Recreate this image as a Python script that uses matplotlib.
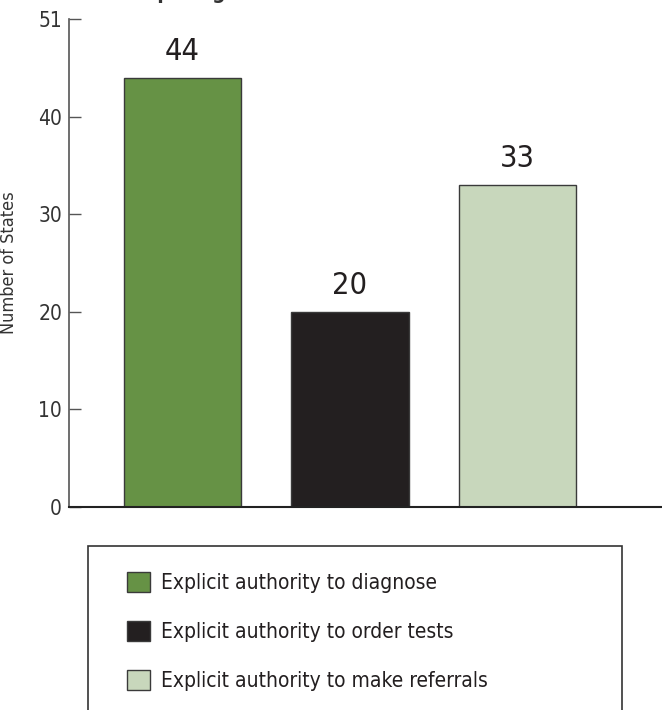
import matplotlib
matplotlib.use('Agg')
import matplotlib.pyplot as plt
from matplotlib import font_manager
from matplotlib.patches import Rectangle

# condensed sans if one is around, otherwise plain DejaVu
fonts = [(f.name, f.stretch) for f in font_manager.fontManager.ttflist]
if any(n == 'Liberation Sans Narrow' for n, s in fonts):
    plt.rcParams['font.family'] = ['Liberation Sans Narrow', 'DejaVu Sans']
elif any(n == 'DejaVu Sans' and s in ('condensed', 'semi-condensed', 500) for n, s in fonts):
    plt.rcParams['font.family'] = ['DejaVu Sans']
    plt.rcParams['font.stretch'] = 'condensed'
else:
    plt.rcParams['font.family'] = ['Roboto', 'DejaVu Sans']

categories = ['Explicit authority to diagnose', 'Explicit authority to order tests', 'Explicit authority to make referrals']
values = [44, 20, 33]
colors = ['#669245', '#231f20', '#c8d7bc']
ytick_pos = [0, 10, 20, 30, 40, 50]
ytick_labels = ['0', '10', '20', '30', '40', '51']  # top tick is labelled 51 in the original

fig = plt.figure(figsize=(6.62, 7.10), dpi=100)
ax = fig.add_axes([0.1042, 0.2863, 0.8958, 0.6865])

bars = ax.bar(range(len(values)), values, width=0.7, color=colors, edgecolor='#3a3a3a', linewidth=1, label=categories)
for b, v in zip(bars, values):
    ax.annotate(str(v), (b.get_x() + b.get_width() / 2, v), xytext=(0, 13), textcoords='offset points',
                ha='center', va='baseline', fontsize=22, color='#231f20')

ax.set_xlim(-0.678, 2.863)
ax.set_ylim(0, 50)
ax.set_xticks([])
ax.set_yticks(ytick_pos)
ax.set_yticklabels(ytick_labels)
ax.tick_params(axis='y', direction='in', length=8.6, width=1, color='#555555', labelsize=15, labelcolor='#333333', pad=5)
for s in ['top', 'right']:
    ax.spines[s].set_visible(False)
ax.spines['left'].set_color('#555555')
ax.spines['left'].set_linewidth(1.2)
ax.spines['bottom'].set_color('#222222')
ax.spines['bottom'].set_linewidth(1.5)
ax.set_ylabel('Number of States', fontsize=13, color='#333333')
ax.yaxis.set_label_coords(-0.086, 0.5)

# title sits mostly above the top edge, as in the cropped original
fig.text(300 / 662, (710 + 0.5) / 710, 'Participating States', ha='right', va='baseline', fontsize=15, fontweight='bold', color='#333333')

# legend box (runs off the bottom of the image)
fig.patches.append(Rectangle((87.5 / 662, -0.05), (622 - 87.5) / 662, (710 - 546) / 710 + 0.05,
                             transform=fig.transFigure, fill=False, edgecolor='#333333', linewidth=1.2))
fig.legend(handles=list(bars), labels=categories, loc='upper left', bbox_to_anchor=(127 / 662, (710 - 571.5) / 710),
           frameon=False, fontsize=15, handlelength=1.1, handleheight=1.1, labelspacing=1.34, handletextpad=0.53,
           borderpad=0, borderaxespad=0, labelcolor='#231f20')

fig.savefig('out.png', dpi=100)
